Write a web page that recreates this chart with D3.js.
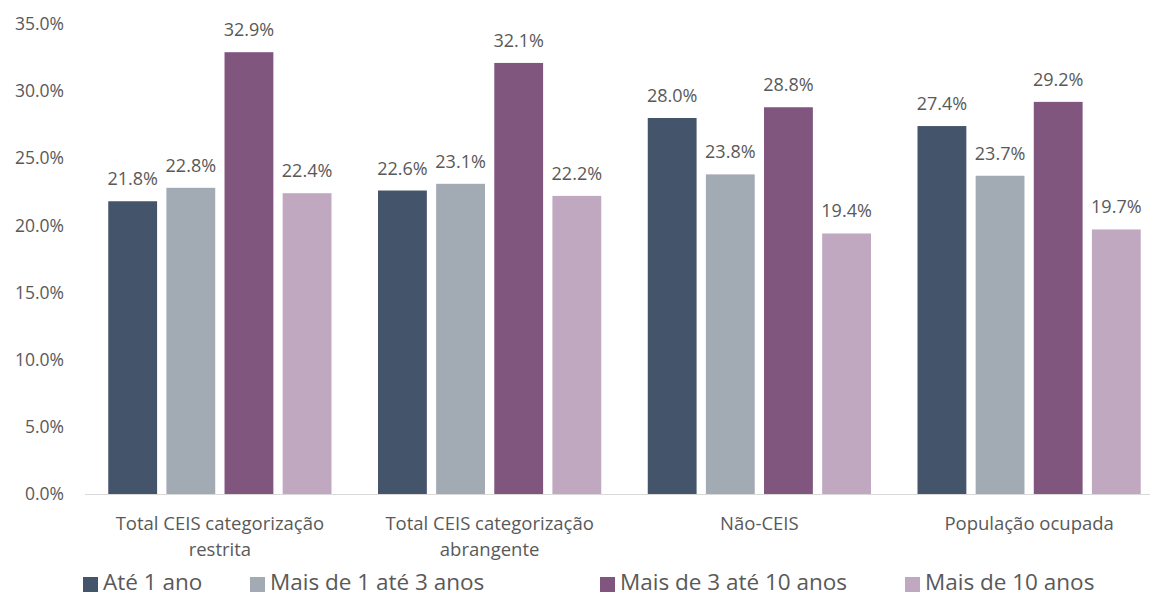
<!DOCTYPE html>
<html>
<head>
<meta charset="utf-8">
<script src="https://cdn.jsdelivr.net/npm/d3@7"></script>
<style>
  body { margin: 0; background: #fff; }
  text { font-family: "Open Sans", sans-serif; fill: #595959; }
</style>
</head>
<body>
<div id="grafico"></div>
<script>
const ANCHO = 1150;
const ALTO = 596;

const categorias = [
    ["Total CEIS categorização", "restrita"],
    ["Total CEIS categorização", "abrangente"],
    ["Não-CEIS"],
    ["População ocupada"]
];
const series = ["Até 1 ano", "Mais de 1 até 3 anos", "Mais de 3 até 10 anos", "Mais de 10 anos"];
const ate1 = [21.8, 22.6, 28.0, 27.4];
const de1a3 = [22.8, 23.1, 23.8, 23.7];
const de3a10 = [32.9, 32.1, 28.8, 29.2];
const mais10 = [22.4, 22.2, 19.4, 19.7];
const marcasY = [0, 5, 10, 15, 20, 25, 30, 35];
const colores = ["#44546a", "#a2aab4", "#80557e", "#c1a8c1"];

const valores = [ate1, de1a3, de3a10, mais10];

const margen = { izq: 85, der: 1164, arriba: 24, abajo: 494 };

const $svg = d3.select("#grafico")
    .append("svg")
    .attr("width", ANCHO)
    .attr("height", ALTO);

const x = d3.scaleBand()
    .domain(d3.range(categorias.length))
    .range([margen.izq, margen.der])
    .paddingInner(0)
    .paddingOuter(0);

const xSerie = d3.scaleBand()
    .domain(d3.range(series.length))
    .range([0, x.bandwidth()])
    .paddingInner(0.16)
    .paddingOuter(0.4);

const y = d3.scaleLinear()
    .domain([0, 35])
    .range([margen.abajo, margen.arriba]);

// etiquetas del eje Y
const ejeY = d3.axisLeft(y)
    .tickValues(marcasY)
    .tickFormat(d => d.toFixed(1) + "%")
    .tickSize(0)
    .tickPadding(0);

const $ejeY = $svg.append("g")
    .attr("transform", `translate(64,0)`)
    .call(ejeY);
$ejeY.select(".domain").remove();
$ejeY.selectAll("text")
    .attr("font-size", 17.5)
    .attr("fill", "#595959")
    .style("font-family", '"Open Sans", sans-serif');

// barras
const grupos = $svg.selectAll("g.grupo")
    .data(categorias)
    .join("g")
    .attr("class", "grupo")
    .attr("transform", (d, i) => `translate(${x(i)},0)`);

grupos.each(function (cat, i) {
    const g = d3.select(this);
    valores.forEach((serie, s) => {
        const v = serie[i];
        g.append("rect")
            .attr("x", xSerie(s))
            .attr("y", y(v))
            .attr("width", xSerie.bandwidth())
            .attr("height", y(0) - y(v))
            .attr("fill", colores[s]);
        g.append("text")
            .attr("x", xSerie(s) + xSerie.bandwidth() / 2)
            .attr("y", y(v) - 16)
            .attr("text-anchor", "middle")
            .attr("font-size", 18)
            .text(v.toFixed(1) + "%");
    });
});

// línea base
$svg.append("line")
    .attr("x1", margen.izq)
    .attr("x2", ANCHO)
    .attr("y1", y(0) + 0.5)
    .attr("y2", y(0) + 0.5)
    .attr("stroke", "#d9d9d9")
    .attr("stroke-width", 1);

// etiquetas de categorías
grupos.each(function (cat) {
    const t = d3.select(this).append("text")
        .attr("x", x.bandwidth() / 2)
        .attr("y", 530)
        .attr("text-anchor", "middle")
        .attr("font-size", 18.5);
    cat.forEach((linea, k) => {
        t.append("tspan")
            .attr("x", x.bandwidth() / 2)
            .attr("dy", k === 0 ? 0 : 26)
            .text(linea);
    });
});

// leyenda
const posLeyenda = [83, 250, 600, 905];
const leyenda = $svg.selectAll("g.leyenda")
    .data(series)
    .join("g")
    .attr("class", "leyenda")
    .attr("transform", (d, i) => `translate(${posLeyenda[i]},0)`);
leyenda.append("rect")
    .attr("x", 0)
    .attr("y", 577)
    .attr("width", 15)
    .attr("height", 15)
    .attr("fill", (d, i) => colores[i]);
leyenda.append("text")
    .attr("x", 20)
    .attr("y", 590)
    .attr("font-size", 22.5)
    .text(d => d);
</script>
</body>
</html>
